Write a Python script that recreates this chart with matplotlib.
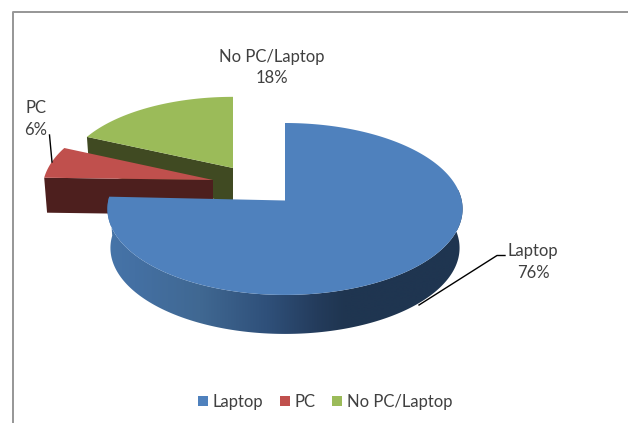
import numpy as np
import matplotlib
matplotlib.use("Agg")
import matplotlib.pyplot as plt
from matplotlib.patches import Patch, Polygon

plt.rcParams['font.family'] = ['Lato', 'DejaVu Sans']

labels = ["Laptop", "PC", "No PC/Laptop"]
shares = [76, 6, 18]
top_colors = ["#4f81bd", "#c0504d", "#9bbb59"]
cut_colors = ["#1f3550", "#4d1f1e", "#404a22"]

# apex x, apex y, rim centre y, half width, half height, depth of each exploded slice (pixels)
slice_geom = [
    (285, 200.5, 202, 177, 85.4, 39),
    (213, 180, 183, 170, 85, 35),
    (233, 168, 169, 167, 78, 35),
]
TILT = 0.081


def rim(angles, geom):
    # angles clockwise from 12 o'clock, tilted disc seen in perspective
    ax0, _, cy, w, h, _ = geom
    u = np.sin(np.radians(angles))
    v = np.cos(np.radians(angles))
    d = 1 + TILT * v
    return ax0 + w * u / d, cy - h * v / d


def lower(x, y, geom):
    return geom[0] + 0.983 * (x - geom[0]), y + geom[5]


def side_shade(x):
    # outer wall of the big slice goes from mid blue on the left to navy
    stops = [109, 135, 200, 267, 317, 345, 470]
    r = np.interp(x, stops, [0x46, 0x44, 0x40, 0x2f, 0x24, 0x1f, 0x1f])
    g = np.interp(x, stops, [0x74, 0x70, 0x68, 0x50, 0x3c, 0x35, 0x35])
    b = np.interp(x, stops, [0xa8, 0xa3, 0x92, 0x7a, 0x5c, 0x50, 0x50])
    return np.stack([r, g, b], axis=-1) / 255


fig = plt.figure(figsize=(6.28, 4.23), dpi=100)
ax = fig.add_axes([0, 0, 1, 1])
ax.axis("off")

# chart frame
ax.plot([12.5, 12.5, 640], [430, 12.5, 12.5], color="#969696", lw=1.4, zorder=1)

edges = np.cumsum([0] + shares) / sum(shares) * 360
starts = edges[:-1]
ends = edges[1:]

# small slices first, laptop goes over them
for i in [2, 1]:
    geom = slice_geom[i]
    px, py = geom[0], geom[1]
    rx, ry = rim(np.array([starts[i]]), geom)
    bx, by = lower(rx, ry, geom)
    ax.fill([px, rx[0], bx[0], px], [py, ry[0], by[0], py + geom[5]],
            color=cut_colors[i], lw=0, zorder=2 + (2 - i))
    a = np.linspace(starts[i], ends[i], 60)
    x, y = rim(a, geom)
    ax.fill(np.r_[px, x], np.r_[py, y], color=top_colors[i], lw=0, zorder=2.5 + (2 - i))

# laptop outer wall, gradient clipped to the wall outline
geom = slice_geom[0]
a = np.linspace(starts[0], ends[0], 400)
x, y = rim(a, geom)
bx, by = lower(x, y, geom)
xs = np.linspace(100, 470, 371)
im = ax.imshow(side_shade(xs)[None, :, :], extent=[100, 470, 345, 190], aspect="auto",
               interpolation="bilinear", zorder=6)
front = a >= 80
wall = Polygon(np.c_[np.r_[x[front], bx[front][::-1]], np.r_[y[front], by[front][::-1]]],
               transform=ax.transData)
im.set_clip_path(wall)
ax.fill(np.r_[geom[0], x], np.r_[geom[1], y], color=top_colors[0], lw=0, zorder=7)
ax.plot([geom[0] - 0.5, x[0] - 0.5], [geom[1], y[0] + 16], color="#1f3550", lw=0.7, zorder=6.5)

# data labels and leaders
text_color = "#404040"
ax.text(272, 67.5, "No PC/Laptop\n18%", ha="center", va="center", fontsize=12,
        color=text_color, linespacing=1.45, zorder=8)
ax.text(36, 119, "PC\n6%", ha="center", va="center", fontsize=12,
        color=text_color, linespacing=1.45, zorder=8)
ax.text(533, 262, "Laptop\n76%", ha="center", va="center", fontsize=12,
        color=text_color, linespacing=1.45, zorder=8)
ax.plot([49.5, 52], [135, 162], color="black", lw=1.0, zorder=8)
ax.plot([419, 497, 505], [305, 255.5, 255.5], color="black", lw=1.0, zorder=8)

ax.set_xlim(0, 628)
ax.set_ylim(423, 0)

handles = [Patch(facecolor=c, edgecolor="none") for c in top_colors]
ax.legend(handles, labels, loc="center", bbox_to_anchor=(325 / 628, 1 - 402 / 423), ncol=3,
          frameon=False, fontsize=12, labelcolor=text_color, handlelength=0.6,
          handleheight=0.6, handletextpad=0.3, columnspacing=0.98)

fig.savefig("out.png", dpi=100, facecolor="white")
